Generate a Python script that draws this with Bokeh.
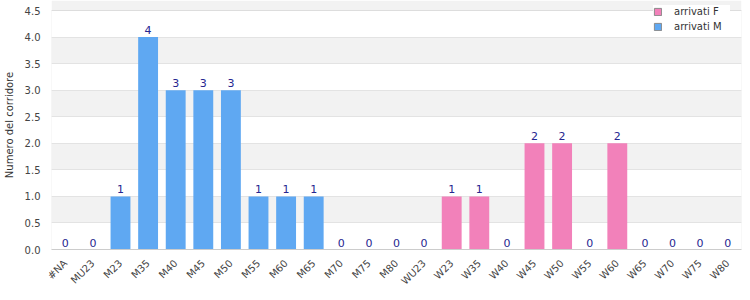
from math import pi, nan
from bokeh.plotting import figure
from bokeh.models import (ColumnDataSource, Legend, LegendItem, SingleIntervalTicker,
                          NumeralTickFormatter, BoxAnnotation)
from bokeh.core.properties import value
from bokeh.embed import file_html
from bokeh.resources import INLINE

categories = ["#NA", "MU23", "M23", "M35", "M40", "M45", "M50", "M55", "M60", "M65", "M70", "M75", "M80",
              "WU23", "W23", "W35", "W40", "W45", "W50", "W55", "W60", "W65", "W70", "W75", "W80"]
arrivati_F = [0, 0, 0, 0, 0, 0, 0, 0, 0, 0, 0, 0, 0, 0, 1, 1, 0, 2, 2, 0, 2, 0, 0, 0, 0]
arrivati_M = [0, 0, 1, 4, 3, 3, 3, 1, 1, 1, 0, 0, 0, 0, 0, 0, 0, 0, 0, 0, 0, 0, 0, 0, 0]
totals = [f + m for f, m in zip(arrivati_F, arrivati_M)]
y_max = 4.5

COL_F = "#f281ba"
COL_M = "#5fa8f2"
FONT = "DejaVu Sans"
src = ColumnDataSource(dict(cat=categories, F=arrivati_F, M=arrivati_M, tot=totals,
                            lab=[str(t) for t in totals]))

FRAME_H = 249
p = figure(x_range=categories, y_range=(0, y_max * FRAME_H / 239), frame_width=690, frame_height=FRAME_H,
           output_backend="svg", toolbar_location=None,
           min_border_left=51, min_border_right=9, min_border_top=0, min_border_bottom=51)

# plot border drawn up to y_max (legend overlaps it, like the reference)
p.add_layout(BoxAnnotation(left=0, right=len(categories), bottom=0, top=y_max,
                           fill_alpha=0, line_color="#d0d0d0", line_width=1))

rM = p.vbar(x="cat", top="M", width=0.72, source=src, color=COL_M, line_color=None)
rF = p.vbar(x="cat", top="F", width=0.72, source=src, color=COL_F, line_color=None)

p.text(x="cat", y="tot", text="lab", source=src, text_align="center", text_baseline="bottom",
       y_offset=-3, text_font=value(FONT), text_font_size="11px", text_color="#262690")

# legend swatches (glyphs with no drawable data, only used for the legend)
gF = p.quad(left=[nan], right=[nan], top=[nan], bottom=[nan], fill_color=COL_F, line_color="#8a8a8a")
gM = p.quad(left=[nan], right=[nan], top=[nan], bottom=[nan], fill_color=COL_M, line_color="#8a8a8a")

p.yaxis.ticker = SingleIntervalTicker(interval=0.5)
p.yaxis.formatter = NumeralTickFormatter(format="0.0")
p.yaxis.axis_label = "Numero del corridore"
p.yaxis.axis_label_text_font = FONT
p.yaxis.axis_label_text_font_style = "normal"
p.yaxis.axis_label_text_font_size = "10px"
p.yaxis.axis_label_text_color = "#333333"
p.yaxis.axis_label_standoff = 7
p.yaxis.axis_line_color = None

for ax in (p.xaxis, p.yaxis):
    ax.major_tick_line_color = None
    ax.minor_tick_line_color = None
    ax.major_label_text_font = FONT
    ax.major_label_text_font_size = "10px"
    ax.major_label_text_color = "#444444"

p.xaxis.axis_line_color = "#cccccc"
p.xaxis.major_label_orientation = pi / 4
p.xaxis.major_label_standoff = 6

p.xgrid.grid_line_color = None
p.ygrid.grid_line_color = "#e3e3e3"
p.ygrid.band_fill_color = "#f2f2f2"
p.ygrid.band_fill_alpha = 1.0
p.outline_line_color = None
p.background_fill_color = "white"

legend = Legend(items=[LegendItem(label="arrivati F", renderers=[gF]),
                       LegendItem(label="arrivati M", renderers=[gM])],
                location=(602, FRAME_H - 32))
legend.label_text_font = FONT
legend.label_text_font_size = "10px"
legend.label_text_color = "#333333"
legend.glyph_width = 9
legend.glyph_height = 9
legend.label_height = 12
legend.label_standoff = 12
legend.label_width = 56
legend.spacing = 3
legend.padding = 4
legend.margin = 0
legend.border_line_color = None
legend.background_fill_color = "white"
legend.background_fill_alpha = 1.0
p.add_layout(legend)

open("out.html", "w").write(file_html(p, INLINE))
